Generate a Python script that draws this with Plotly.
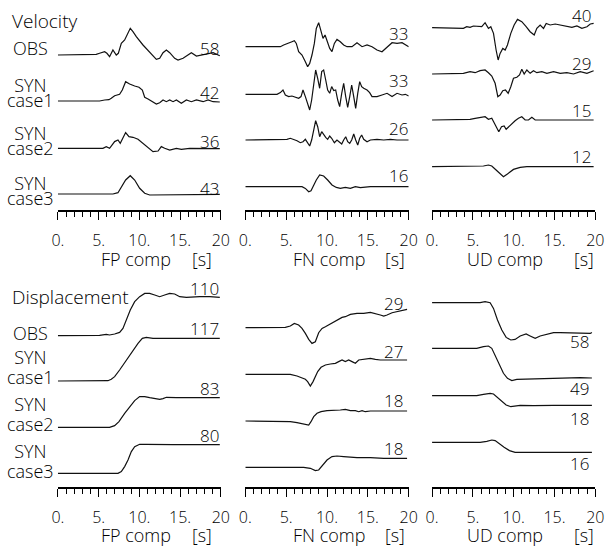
import plotly.graph_objects as go

# ---------------- data: time (s) and relative trace deflection ----------------
# Velocity, FP component
vel_fp_obs_t = [0, 4.30, 4.71, 5.12, 5.74, 6.02, 6.35, 6.76, 7.17, 7.42, 7.79, 8.20, 8.61, 8.89, 9.22, 9.63, 10.45, 11.27, 12.09, 12.50, 12.91, 13.32, 13.73, 14.34, 14.75, 15.37, 16.39, 17.01, 17.62, 18.24, 19.06, 19.88]
vel_fp_obs_a = [0, 0, 0.7, 1.7, 3.3, 1.7, -1.7, 5, 0, 1.7, 11.7, 15, 21.7, 26.7, 23.3, 18.3, 10, 3.3, -4.3, -3.3, 2.3, 5, 2.3, -3.3, -5, -3.3, 2.3, -1, 0, 1, 2.3, -0.7]
vel_fp_c1_t = [0, 5.12, 5.74, 6.27, 6.56, 6.97, 7.58, 7.91, 8.32, 8.81, 9.43, 9.96, 10.37, 10.66, 11.07, 11.60, 12.09, 12.50, 12.91, 13.32, 13.73, 14.14, 14.55, 15.16, 15.78, 16.39, 17.01, 17.83, 18.44, 19.06, 19.88]
vel_fp_c1_a = [0, 0, 1, 1.3, 2.7, 5.3, 6.7, 11, 19.3, 17, 15, 13.7, 11, 3.7, 2, -0.7, -3, -1.7, 1, -0.7, 1, -0.7, 1, -2.3, 1, -0.7, 1, -0.7, 1, -0.7, -1]
vel_fp_c2_t = [0, 5.53, 5.94, 6.35, 6.97, 7.38, 7.66, 7.99, 8.32, 8.73, 9.22, 9.84, 10.45, 11.07, 11.68, 12.30, 12.70, 13.11, 13.73, 14.55, 15.16, 16.19, 17.42, 19.88]
vel_fp_c2_a = [0, 0, 1.7, 0, 6.7, 8.3, 5, 10, 15.7, 11.7, 11, 9, 5, 0, -3.3, -2.7, 1.7, 0, -1.7, 0, -1, 0, -0.3, -0.3]
vel_fp_c3_t = [0, 6.76, 7.38, 7.79, 8.32, 8.89, 9.43, 10.04, 10.66, 11.27, 12.50, 14.14, 15.78, 19.88]
vel_fp_c3_a = [0, 0, 1.3, 7.3, 14, 18.3, 14, 5.7, 0.7, -1, -1, -0.7, -0.3, -0.3]

# Velocity, FN component
vel_fn_obs_t = [0, 3.06, 3.47, 4.29, 4.69, 5.31, 5.71, 6.0, 6.24, 6.53, 6.94, 7.35, 7.63, 7.88, 8.16, 8.45, 8.69, 8.98, 9.27, 9.51, 9.76, 10.0, 10.33, 10.61, 10.90, 11.22, 11.63, 12.04, 12.45, 13.06, 13.67, 14.29, 14.90, 15.51, 16.12, 16.73, 17.35, 17.96, 18.57, 19.18, 20.0]
vel_fn_obs_a = [0, 0, 0, 0, 1.7, 3.3, 5, 6, 3.3, -5, -8.3, -15, -20, -16.7, -8.3, 3.3, 18.3, 24, 16.7, 8.3, 11.7, 6.7, -1.7, -5, 3.3, 7.3, 5, 1.7, 0, 0, 4, 0, 1.7, 0, -3.3, -5, 0, 4, 3.3, 4, 0]
vel_fn_c1_t = [0, 3.88, 4.29, 4.61, 4.90, 5.31, 5.71, 6.12, 6.53, 6.82, 7.06, 7.35, 7.63, 7.88, 8.12, 8.37, 8.61, 8.86, 9.10, 9.35, 9.59, 9.84, 10.08, 10.33, 10.57, 10.82, 11.06, 11.31, 11.55, 11.80, 12.04, 12.29, 12.53, 12.78, 13.02, 13.27, 13.51, 13.76, 14.0, 14.24, 14.49, 14.90, 15.22, 15.51, 16.12, 16.73, 17.35, 17.96, 18.57, 19.18, 19.59, 20.0]
vel_fn_c1_a = [0, 0, 1.7, 4.3, -0.7, -2.3, -1.7, -3, -4, -2.3, 4.3, -2.3, -10.7, -15.7, -5.7, 9.3, 24.3, 16, 6, 22.7, 24.3, 14.3, 4.3, 1, 7.7, 3.7, 4.3, -5.7, -12.3, 1, 11, -2.3, -13, -2.3, 9.3, -2.3, -14, 1, 12.7, 7.7, 6, 4.3, 1.7, -2.3, -2.3, -0.7, 1, -2.3, 1, -0.7, 0, -1.7]
vel_fn_c2_t = [0, 4.69, 5.10, 5.51, 5.92, 6.33, 6.73, 7.06, 7.35, 7.63, 7.88, 8.12, 8.37, 8.61, 8.86, 9.10, 9.35, 9.59, 9.84, 10.08, 10.33, 10.57, 10.90, 11.22, 11.47, 11.80, 12.04, 12.29, 12.53, 12.78, 13.02, 13.27, 13.51, 13.76, 14.0, 14.24, 14.49, 14.90, 15.31, 16.12, 16.94, 17.76, 18.57, 20.0]
vel_fn_c2_a = [0, 0, 0.7, 1.7, 0.7, -0.7, -2.7, -1.7, 0.7, -3.3, -6, 0, 11.7, 19.3, 13.3, 3.3, 8.3, 5, 2.7, 0.7, 4, 1.7, -2.7, 0, -1.7, -4, 0, 3.3, -1.7, -3.3, 0, 6, 0, -5, 1.7, 5, 0.7, -1.7, 0, 0.7, 0, 0.7, 0, 0]
vel_fn_c3_t = [0, 6.94, 7.35, 7.76, 8.04, 8.37, 8.69, 9.10, 9.59, 10.08, 10.61, 11.14, 11.63, 12.24, 12.86, 13.47, 14.08, 15.31, 20.0]
vel_fn_c3_a = [0, 0, -1.7, -5, -4, 1.7, 6.7, 11.7, 10.7, 6.7, 1.7, -0.7, -1.7, -0.7, -1.7, 0, -1, 0, 0]

# Velocity, UD component
vel_ud_obs_t = [0, 3.44, 3.84, 4.25, 4.66, 5.07, 5.69, 6.09, 6.50, 6.91, 7.20, 7.53, 7.85, 8.10, 8.34, 8.67, 8.96, 9.24, 9.65, 10.06, 10.47, 11.0, 11.53, 12.02, 12.52, 12.84, 13.25, 13.66, 13.99, 14.48, 15.09, 15.71, 16.52, 17.14, 17.75, 18.36, 18.98, 19.39, 19.80]
vel_ud_obs_a = [0, 0, -0.7, 1, 0.3, 1.7, 1.7, 1, 5, -0.7, 1, -5.7, -22.3, -32.3, -25.7, -20.7, -22.3, -17.3, -5.7, 2.7, 8.3, 6, 1, -4, -7.3, -0.7, 2.7, -0.7, 4.3, 2.7, 3.7, 2.7, 1, 0.3, 1.7, -0.7, 1, 3.7, 4.3]
vel_ud_c1_t = [0, 3.03, 3.84, 4.66, 5.28, 5.89, 6.50, 6.91, 7.32, 7.73, 8.06, 8.34, 8.67, 9.0, 9.33, 9.65, 9.98, 10.39, 10.72, 11.0, 11.29, 11.62, 12.02, 12.43, 12.84, 13.46, 14.07, 14.89, 15.71, 16.52, 17.34, 18.16, 18.98, 19.80]
vel_ud_c1_a = [0, 0, 0.7, 2.3, 1.3, 3.3, 4, 1.3, -2, -9.3, -22.7, -21, -16.7, -16, -19.3, -12.7, -4.3, -3.3, -1, 4.7, 0, 4, 0.7, 3.3, 1.3, 2.3, 0.7, 2.3, 0.7, 1.3, 0, 2.3, 0.7, 3.3]
vel_ud_c2_t = [0, 3.84, 4.66, 5.28, 5.89, 6.50, 6.91, 7.32, 7.61, 7.93, 8.18, 8.51, 8.83, 9.08, 9.41, 9.78, 10.18, 10.59, 11.0, 11.41, 11.82, 12.23, 12.64, 13.25, 14.07, 19.80]
vel_ud_c2_a = [0, 0, 0.7, 1.7, 2.7, 3.3, 0.7, 1.7, -2.7, -8.3, -11.7, -6.7, -6, -9.3, -6.7, -3.3, -0.7, 1.7, 3.3, 0, 0, 2.7, 0, 0, 0, 0]
vel_ud_c3_t = [0, 5.48, 6.30, 6.91, 7.32, 7.85, 8.34, 8.75, 9.24, 9.98, 10.80, 11.62, 19.80]
vel_ud_c3_a = [0, 0, 0.7, 1.7, 0.7, -3.3, -7.3, -10, -7.3, -2.7, -0.7, 0, 0]

# Displacement, FP component
dis_fp_obs_t = [0, 3.07, 4.30, 5.12, 5.94, 6.35, 6.97, 7.58, 7.99, 8.40, 8.89, 9.43, 10.04, 10.66, 11.27, 11.89, 12.50, 13.11, 13.73, 14.34, 14.96, 15.78, 16.60, 17.42, 18.65, 19.88]
dis_fp_obs_a = [0, 0, -0.3, 0.3, 1.3, 0.7, 1.7, 3.3, 7.3, 15.7, 25.7, 34, 39, 42.3, 42.3, 40.7, 39, 40.7, 42.3, 41.7, 39, 38.3, 39, 39, 39, 38.3]
dis_fp_c1_t = [0, 5.53, 6.15, 6.56, 6.97, 7.58, 8.40, 9.22, 9.84, 10.37, 10.86, 11.68, 12.50, 13.32, 14.55, 15.78, 17.42, 19.88]
dis_fp_c1_a = [0, 0, 0.3, 1.7, 4.3, 11, 21, 31, 37.7, 42.7, 43.7, 42.7, 42.7, 43.3, 42.7, 43.3, 43.3, 42.7]
dis_fp_c2_t = [0, 6.35, 6.97, 7.50, 8.20, 8.89, 9.43, 10.04, 10.66, 11.27, 11.89, 12.50, 12.91, 13.32, 14.55, 19.88]
dis_fp_c2_a = [0, 0, 1.7, 5.7, 14, 20.7, 26.7, 30.7, 30.7, 29.7, 29, 28, 28.7, 30, 29.7, 29.7]
dis_fp_c3_t = [0, 7.38, 7.79, 8.20, 8.61, 9.02, 9.43, 10.04, 10.86, 12.50, 13.32, 14.14, 15.78, 19.88]
dis_fp_c3_a = [0, 0, 1.7, 6.7, 13.3, 21.7, 26.7, 29, 29, 28.7, 28.3, 28.7, 28.7, 28.7]

# Displacement, FN component
dis_fn_obs_t = [0, 4.29, 4.90, 5.51, 6.0, 6.53, 6.94, 7.35, 7.76, 8.16, 8.57, 8.98, 9.39, 9.80, 10.20, 10.61, 11.02, 11.43, 11.84, 12.24, 12.86, 13.67, 14.49, 15.31, 15.92, 16.53, 16.94, 17.35, 17.96, 18.57, 19.18, 19.80]
dis_fn_obs_a = [0, 0, 0.3, 1.7, 4.3, 2.7, -0.7, -5.7, -11.7, -15.7, -14, -5, -0.7, 1, 2.7, 5, 6, 8.3, 10.3, 11, 13.3, 14.3, 14.3, 15.3, 14.3, 12.7, 11.7, 12.7, 15, 16, 17.7, 18.3]
dis_fn_c1_t = [0, 4.69, 5.51, 6.33, 6.94, 7.35, 7.63, 7.96, 8.29, 8.57, 8.86, 9.27, 9.80, 10.41, 11.02, 11.43, 11.84, 12.24, 12.65, 13.06, 13.47, 13.88, 14.49, 15.31, 15.92, 16.53, 19.80]
dis_fn_c1_a = [0, 0, 0, -1.7, -4, -5, -7.3, -11.7, -7.3, -2.3, 2.7, 7, 9.3, 10.3, 11, 12.7, 14.3, 12.7, 14.3, 12.7, 11, 14.3, 15, 16, 15, 14.3, 14.3]
dis_fn_c2_t = [0, 4.69, 5.51, 6.33, 7.14, 7.76, 8.04, 8.37, 8.78, 9.27, 10.0, 10.82, 11.63, 12.24, 12.86, 13.47, 13.88, 14.29, 14.69, 15.31, 19.80]
dis_fn_c2_a = [0, 0, -0.7, -1.7, -3, -4, -0.7, 4.3, 7.7, 9.3, 10.3, 10.3, 11, 11.7, 10.3, 10.3, 9.3, 10.3, 9.3, 10, 10]
dis_fn_c3_t = [0, 7.14, 7.96, 8.57, 8.98, 9.51, 10.0, 10.61, 11.22, 12.04, 13.67, 15.31, 16.94, 19.80]
dis_fn_c3_a = [0, 0, -1, -3.3, -2.7, 2.3, 7.3, 10.7, 11.3, 10.7, 9.7, 9.7, 9, 9]

# Displacement, UD component
dis_ud_obs_t = [0, 5.89, 6.50, 7.12, 7.53, 8.02, 8.55, 9.08, 9.65, 10.18, 10.80, 11.53, 12.02, 12.64, 13.25, 14.07, 14.89, 15.71, 16.52, 17.34, 18.57, 19.39, 19.59]
dis_ud_obs_a = [0, 0, 1, 0, -5.7, -17.3, -27.3, -34.7, -37.3, -36.7, -33.3, -31.3, -33.3, -35.7, -33.3, -31.3, -30, -30, -30, -30.7, -30.7, -30.7, -29.7]
dis_ud_c1_t = [0, 5.48, 6.30, 6.91, 7.32, 7.73, 8.26, 8.75, 9.24, 9.78, 10.39, 11.62, 13.25, 14.89, 16.52, 18.16, 19.59]
dis_ud_c1_a = [0, 0, 1.7, 2.3, 0, -6.7, -16.7, -25, -30, -32.3, -31, -30.7, -30.7, -30, -29.3, -29.3, -29.7]
dis_ud_c2_t = [0, 5.48, 6.30, 7.12, 7.53, 8.02, 8.55, 9.08, 9.65, 10.31, 10.80, 12.43, 13.25, 14.89, 19.59]
dis_ud_c2_a = [0, 0, 1.3, 2.3, 1.7, -1.7, -6, -9.3, -11, -10.3, -9.7, -10, -9.7, -9.7, -9.7]
dis_ud_c3_t = [0, 5.89, 6.71, 7.32, 7.73, 8.26, 8.83, 9.49, 10.18, 11.62, 14.89, 19.59]
dis_ud_c3_a = [0, 0, 1, 2.3, 1.7, -1.7, -5, -8.3, -10, -10, -10, -10]

# peak amplitude labels (per panel: OBS, case1, case2, case3)
vel_fp_peak = ["58", "42", "36", "43"]
vel_fn_peak = ["33", "33", "26", "16"]
vel_ud_peak = ["40", "29", "15", "12"]
dis_fp_peak = ["110", "117", "83", "80"]
dis_fn_peak = ["29", "27", "18", "18"]
dis_ud_peak = ["58", "49", "18", "16"]

tick_vals = [0, 5, 10, 15, 20]
tick_text = ["0.", "5.", "10.", "15.", "20"]
comp_names = ["FP comp", "FN comp", "UD comp"]
row_names = ["Velocity", "Displacement"]
trace_names = ["OBS", ("SYN", "case1"), ("SYN", "case2"), ("SYN", "case3")]

# ---------------- layout (pixel geometry of the target picture) ----------------
W, H = 606, 547
FONT = "Open Sans"
WEIGHT = 300
PX0 = [58.3, 245.5, 432.0]
PX1 = [221.0, 408.7, 595.0]
ROW_TOP = [0.0, 280.0]
ROW_AXIS = [209.5, 487.0]

panels = [
    (0, 0, [(vel_fp_obs_t, vel_fp_obs_a), (vel_fp_c1_t, vel_fp_c1_a), (vel_fp_c2_t, vel_fp_c2_a), (vel_fp_c3_t, vel_fp_c3_a)],
     [55.0, 101.0, 148.3, 194.0], vel_fp_peak, 218, [55, 99.3, 148, 195]),
    (0, 1, [(vel_fn_obs_t, vel_fn_obs_a), (vel_fn_c1_t, vel_fn_c1_a), (vel_fn_c2_t, vel_fn_c2_a), (vel_fn_c3_t, vel_fn_c3_a)],
     [46.7, 94.3, 140.0, 186.7], vel_fn_peak, 407, [40, 87.3, 135, 181.7]),
    (0, 2, [(vel_ud_obs_t, vel_ud_obs_a), (vel_ud_c1_t, vel_ud_c1_a), (vel_ud_c2_t, vel_ud_c2_a), (vel_ud_c3_t, vel_ud_c3_a)],
     [27.7, 74.0, 120.0, 166.7], vel_ud_peak, 590, [21.7, 70, 116.7, 163.3]),
    (1, 0, [(dis_fp_obs_t, dis_fp_obs_a), (dis_fp_c1_t, dis_fp_c1_a), (dis_fp_c2_t, dis_fp_c2_a), (dis_fp_c3_t, dis_fp_c3_a)],
     [335.7, 381.0, 427.3, 473.3], dis_fp_peak, 218, [295, 335, 395, 441.7]),
    (1, 1, [(dis_fn_obs_t, dis_fn_obs_a), (dis_fn_c1_t, dis_fn_c1_a), (dis_fn_c2_t, dis_fn_c2_a), (dis_fn_c3_t, dis_fn_c3_a)],
     [327.7, 374.3, 421.0, 467.3], dis_fn_peak, 402, [310, 358.3, 406.7, 455]),
    (1, 2, [(dis_ud_obs_t, dis_ud_obs_a), (dis_ud_c1_t, dis_ud_c1_a), (dis_ud_c2_t, dis_ud_c2_a), (dis_ud_c3_t, dis_ud_c3_a)],
     [302.7, 348.3, 395.7, 442.3], dis_ud_peak, 588, [348.3, 395, 425, 470]),
]

fig = go.Figure()


def fx(x):
    # horizontal pixel of the target -> paper fraction (compensates the capture's horizontal mapping)
    return ((x - 6.5) / 0.974) / W


def py(y):
    return 1 - y / H


def label(text, x, base, size, xanchor):
    yc = base - 0.388 * size
    fig.add_annotation(text=text, x=fx(x), y=py(yc), xref="paper", yref="paper",
                       xanchor=xanchor, yanchor="middle", showarrow=False,
                       borderpad=0, borderwidth=0,
                       font=dict(family=FONT, size=size, color="black", weight=WEIGHT))


def label2(lines, x, base, spacing, size):
    # two tightly stacked lines in one text: a small base font sets the line pitch
    base_size = spacing / 1.3
    txt = "<br>".join(f'<span style="font-size:{size}px">{s}</span>' for s in lines)
    yc = base + (spacing + 0.293 * size - 1.069 * size) / 2
    fig.add_annotation(text=txt, x=fx(x), y=py(yc), xref="paper", yref="paper",
                       xanchor="center", yanchor="middle", align="center", showarrow=False,
                       borderpad=0, borderwidth=0,
                       font=dict(family=FONT, size=base_size, color="black", weight=WEIGHT))


layout_axes = {}
for i, (row, col, traces, bases, peaks, lx, lbases) in enumerate(panels):
    n = i + 1
    xa = "x" if n == 1 else f"x{n}"
    ya = "y" if n == 1 else f"y{n}"
    for (t, a), b in zip(traces, bases):
        fig.add_trace(go.Scatter(x=t, y=[v - b for v in a], mode="lines",
                                 line=dict(color="#111111", width=1.2),
                                 xaxis=xa, yaxis=ya, showlegend=False,
                                 hoverinfo="skip"))
    for txt, lb in zip(peaks, lbases):
        label(txt, lx + 1, lb, 17, "right")
    layout_axes["xaxis" if n == 1 else f"xaxis{n}"] = dict(
        domain=[fx(PX0[col]), fx(PX1[col])], anchor=ya, range=[0, 20],
        showline=True, linecolor="black", linewidth=2, mirror=False,
        ticks="outside", ticklen=8, tickwidth=1, tickcolor="black",
        tickvals=tick_vals, ticktext=tick_text, ticklabelstandoff=7,
        tickfont=dict(family=FONT, size=16, color="black", weight=WEIGHT),
        minor=dict(dtick=1, ticks="outside", ticklen=5, tickwidth=1, tickcolor="black"),
        showgrid=False, zeroline=False, fixedrange=True)
    layout_axes["yaxis" if n == 1 else f"yaxis{n}"] = dict(
        domain=[py(ROW_AXIS[row]), py(ROW_TOP[row])], anchor=xa,
        range=[-ROW_AXIS[row], -ROW_TOP[row]], visible=False, fixedrange=True)

fig.update_layout(**layout_axes)

# row titles and trace names
label(row_names[0], 12, 28, 19, "left")
label(row_names[1], 12, 304, 19, "left")
label(trace_names[0], 31, 55, 18, "center")
label(trace_names[0], 31, 340, 18, "center")
for name, base in zip(trace_names[1:], [91.7, 140, 190]):
    label2(name, 31, base, 14.6, 18)
for name, base in zip(trace_names[1:], [364.5, 411.5, 458.5]):
    label2(name, 31, base, 19.6, 18)

# axis titles
title_cx = [(136.5, 202.5), (329, 395), (505, 583.5)]
for base in (266, 541.5):
    for (cx, sx), name in zip(title_cx, comp_names):
        label(name, cx, base, 18, "center")
        label("[s]", sx, base, 18, "center")

fig.update_layout(width=W, height=H, margin=dict(l=0, r=0, t=0, b=0),
                  paper_bgcolor="white", plot_bgcolor="white",
                  font=dict(family=FONT, color="black"))

fig.write_html("out.html")
